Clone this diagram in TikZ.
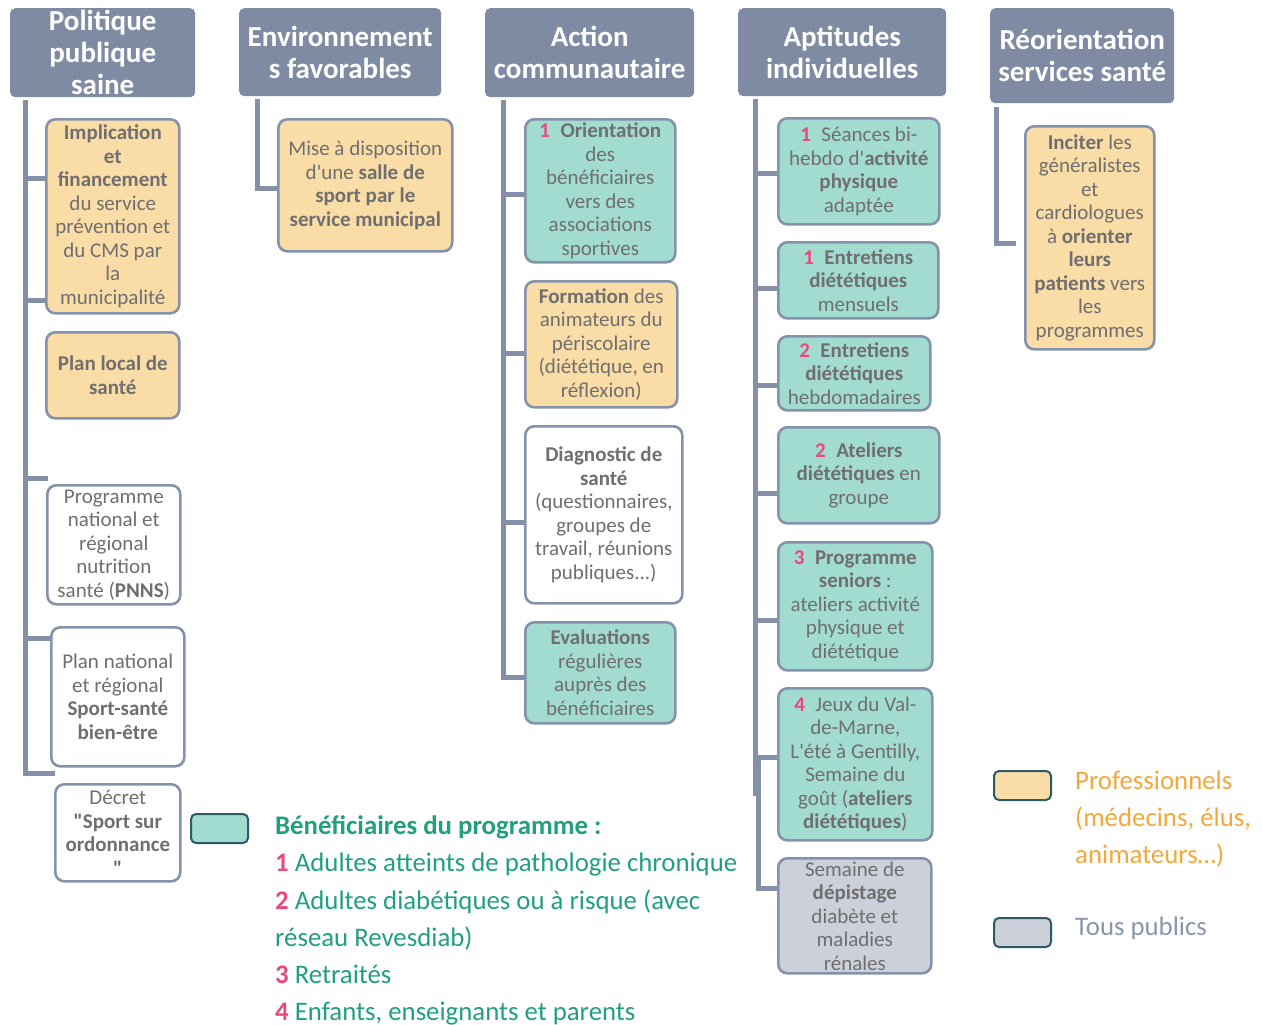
\documentclass[tikz,border=0pt]{standalone}
\usepackage{fontspec}
\setmainfont{Carlito}[Ligatures=TeXOff]
\definecolor{hdrc}{HTML}{7F8BA3}
\definecolor{bordc}{HTML}{8592AB}
\definecolor{connc}{HTML}{8390A8}
\definecolor{tealf}{HTML}{A2DBD0}
\definecolor{orf}{HTML}{F9DCA6}
\definecolor{grayf}{HTML}{CBD0DA}
\definecolor{txtc}{HTML}{6F6F6F}
\definecolor{pinkc}{HTML}{E84A7F}
\definecolor{legteal}{HTML}{21A07F}
\definecolor{legor}{HTML}{F5A83A}
\definecolor{leggray}{HTML}{8A96AD}
\definecolor{swb}{HTML}{2C5A66}
\newcommand\pk[1]{\textcolor{pinkc}{\bfseries #1}}
\begin{document}
\begin{tikzpicture}[x=1pt,y=-1pt,
 hdr/.style={fill=hdrc, rounded corners=5pt, text=white, font=\bfseries\fontsize{29}{32}\selectfont, align=center, inner sep=0pt, anchor=north west},
 bx/.style={draw=bordc, line width=2.6pt, rounded corners=9pt, text=txtc, font=\fontsize{21}{23.5}\selectfont, align=center, inner sep=0pt, anchor=north west},
 conn/.style={draw=connc, line width=5pt},
 sw/.style={draw=swb, line width=2pt, rounded corners=5pt, anchor=north west, inner sep=0pt, minimum width=57pt, minimum height=29pt},
 lg/.style={font=\fontsize{26.8}{30}\selectfont, anchor=base west, inner sep=0pt}]
\useasboundingbox[fill=white] (0,0) rectangle (1262,1025);

% headers
\node[hdr, minimum width=185pt, minimum height=89pt] (h1) at (10,8) {Politique\\publique\\saine};
\node[hdr, minimum width=202pt, minimum height=88pt] (h2) at (239,8) {Environnement\\s favorables};
\node[hdr, minimum width=209pt, minimum height=89pt] (h3) at (485,8) {Action\\communautaire};
\node[hdr, minimum width=208pt, minimum height=88pt] (h4) at (738,8) {Aptitudes\\individuelles};
\node[hdr, minimum width=184pt, minimum height=95pt] (h5) at (990,8) {Réorientation\\services santé};

% column 1
\node[bx, fill=orf, minimum width=133pt, minimum height=194pt] (impl) at (45,118) {{\bfseries Implication}\\{\bfseries et}\\{\bfseries financement}\\du service\\prévention et\\du CMS par\\la\\municipalité};
\node[bx, fill=orf, minimum width=133pt, minimum height=86pt] (pls) at (45,331) {{\bfseries Plan local de}\\{\bfseries santé}};
\node[bx, fill=white, minimum width=133pt, minimum height=119pt] (prog) at (46,484) {Programme\\national et\\régional\\nutrition\\santé ({\bfseries PNNS})};
\node[bx, fill=white, minimum width=133pt, minimum height=139pt] (pnat) at (50,626) {Plan national\\et régional\\{\bfseries Sport-santé}\\{\bfseries bien-être}};
\node[bx, fill=white, minimum width=125pt, minimum height=97pt] (decret) at (54,783) {Décret\\{\bfseries "Sport sur}\\{\bfseries ordonnance}\\{\bfseries "}};

\draw[conn] (h1.south west) ++(15,3) -- ++(0,673) -- ++(30,0);
\draw[conn] ([yshift=-60pt]impl.north west) -- ++(-20,0);
\draw[conn] ([yshift=-182pt]impl.north west) -- ++(-20,0);
\draw[conn] ([yshift=6pt,xshift=2pt]prog.north west) -- ++(-23,0);
\draw[conn] ([yshift=-12pt]pnat.north west) -- ++(-25,0);

% column 2
\node[bx, fill=orf, minimum width=174pt, minimum height=132pt] (mise) at (277,118) {Mise à disposition\\d'une {\bfseries salle de}\\{\bfseries sport par le}\\{\bfseries service municipal}};
\draw[conn] (h2.south west) ++(18,3) |- ([yshift=-70pt]mise.north west);

% column 3
\node[bx, fill=tealf, minimum width=150pt, minimum height=143pt] (orient) at (524,118) {\pk{1}\enspace{\bfseries Orientation}\\des\\bénéficiaires\\vers des\\associations\\sportives};
\node[bx, fill=orf, minimum width=152pt, minimum height=126pt] (form) at (524,280) {{\bfseries Formation} des\\animateurs du\\périscolaire\\(diététique, en\\réflexion)};
\node[bx, fill=white, minimum width=157pt, minimum height=177pt] (diag) at (524,425) {{\bfseries Diagnostic de}\\{\bfseries santé}\\(questionnaires,\\groupes de\\travail, réunions\\publiques...)};
\node[bx, fill=tealf, minimum width=150pt, minimum height=101pt] (eval) at (524,621) {{\bfseries Evaluations}\\régulières\\auprès des\\bénéficiaires};
\draw[conn] (h3.south west) ++(18,3) |- ([yshift=-56pt]eval.north west);
\draw[conn] ([yshift=-76pt]orient.north west) -- ++(-21,0);
\draw[conn] ([yshift=-73pt]form.north west) -- ++(-21,0);
\draw[conn] ([yshift=-97pt]diag.north west) -- ++(-21,0);

% column 4
\node[bx, fill=tealf, minimum width=161pt, minimum height=106pt] (seances) at (777,117) {\pk{1}\enspace Séances bi-\\hebdo d'{\bfseries activité}\\{\bfseries physique}\\adaptée};
\node[bx, fill=tealf, minimum width=160pt, minimum height=76pt] (ementr) at (777,241) {\pk{1}\enspace{\bfseries Entretiens}\\{\bfseries diététiques}\\mensuels};
\node[bx, fill=tealf, minimum width=152pt, minimum height=74pt] (hentr) at (777,335) {\pk{2}\enspace{\bfseries Entretiens}\\{\bfseries diététiques}\\hebdomadaires};
\node[bx, fill=tealf, minimum width=161pt, minimum height=96pt] (atel) at (777,426) {\pk{2}\enspace{\bfseries Ateliers}\\{\bfseries diététiques} en\\groupe};
\node[bx, fill=tealf, minimum width=154pt, minimum height=128pt] (senior) at (777,541) {\pk{3}\enspace{\bfseries Programme}\\{\bfseries seniors} :\\ateliers activité\\physique et\\diététique};
\node[bx, fill=tealf, minimum width=154pt, minimum height=152pt] (jeux) at (777,687) {\pk{4}\enspace Jeux du Val-\\de-Marne,\\L'été à Gentilly,\\Semaine du\\goût ({\bfseries ateliers}\\{\bfseries diététiques})};
\node[bx, fill=grayf, minimum width=153pt, minimum height=115pt] (depist) at (777,857) {Semaine de\\{\bfseries dépistage}\\diabète et\\maladies\\rénales};
\draw[conn] (h4.south west) ++(17,3) -- ++(0,697);
\draw[conn] ([yshift=-56pt]seances.north west) -- ++(-22,0);
\draw[conn] ([yshift=-47pt]ementr.north west) -- ++(-22,0);
\draw[conn] ([yshift=-50pt]hentr.north west) -- ++(-22,0);
\draw[conn] ([yshift=-67pt]atel.north west) -- ++(-22,0);
\draw[conn] ([yshift=-79pt]senior.north west) -- ++(-22,0);
\draw[conn] ([yshift=-70pt]jeux.north west) -- ++(-22,0);
\draw[conn] ([yshift=-31pt]depist.north west) -- ++(-19,0) -- ++(0,-128);

% column 5
\node[bx, fill=orf, minimum width=129pt, minimum height=223pt] (inciter) at (1024,125) {{\bfseries Inciter} les\\généralistes\\et\\cardiologues\\à {\bfseries orienter}\\{\bfseries leurs}\\{\bfseries patients} vers\\les\\programmes};
\draw[conn] (h5.south west) ++(6,4) |- ([yshift=-118pt,xshift=-8pt]inciter.north west);

% legend
\node[sw, fill=tealf] (swt) at (190,813) {};
\node[lg, text=legteal] (l1) at (275,834) {\bfseries Bénéficiaires du programme :};
\node[lg, text=legteal] (l2) at (275,871) {\pk{1} Adultes atteints de pathologie chronique};
\node[lg, text=legteal] (l3) at (275,909) {\pk{2} Adultes diabétiques ou à risque (avec};
\node[lg, text=legteal] (l4) at (275,946) {réseau Revesdiab)};
\node[lg, text=legteal] (l5) at (275,983) {\pk{3} Retraités};
\node[lg, text=legteal] (l6) at (275,1020) {\pk{4} Enfants, enseignants et parents};

\node[sw, fill=orf] (swo) at (993,770) {};
\node[lg, text=legor] (r1) at (1075,789) {Professionnels};
\node[lg, text=legor] (r2) at (1075,826) {(médecins, élus,};
\node[lg, text=legor] (r3) at (1075,863) {animateurs…)};
\node[sw, fill=grayf] (swg) at (993,917) {};
\node[lg, text=leggray] (r4) at (1075,935) {Tous publics};
\end{tikzpicture}
\end{document}
